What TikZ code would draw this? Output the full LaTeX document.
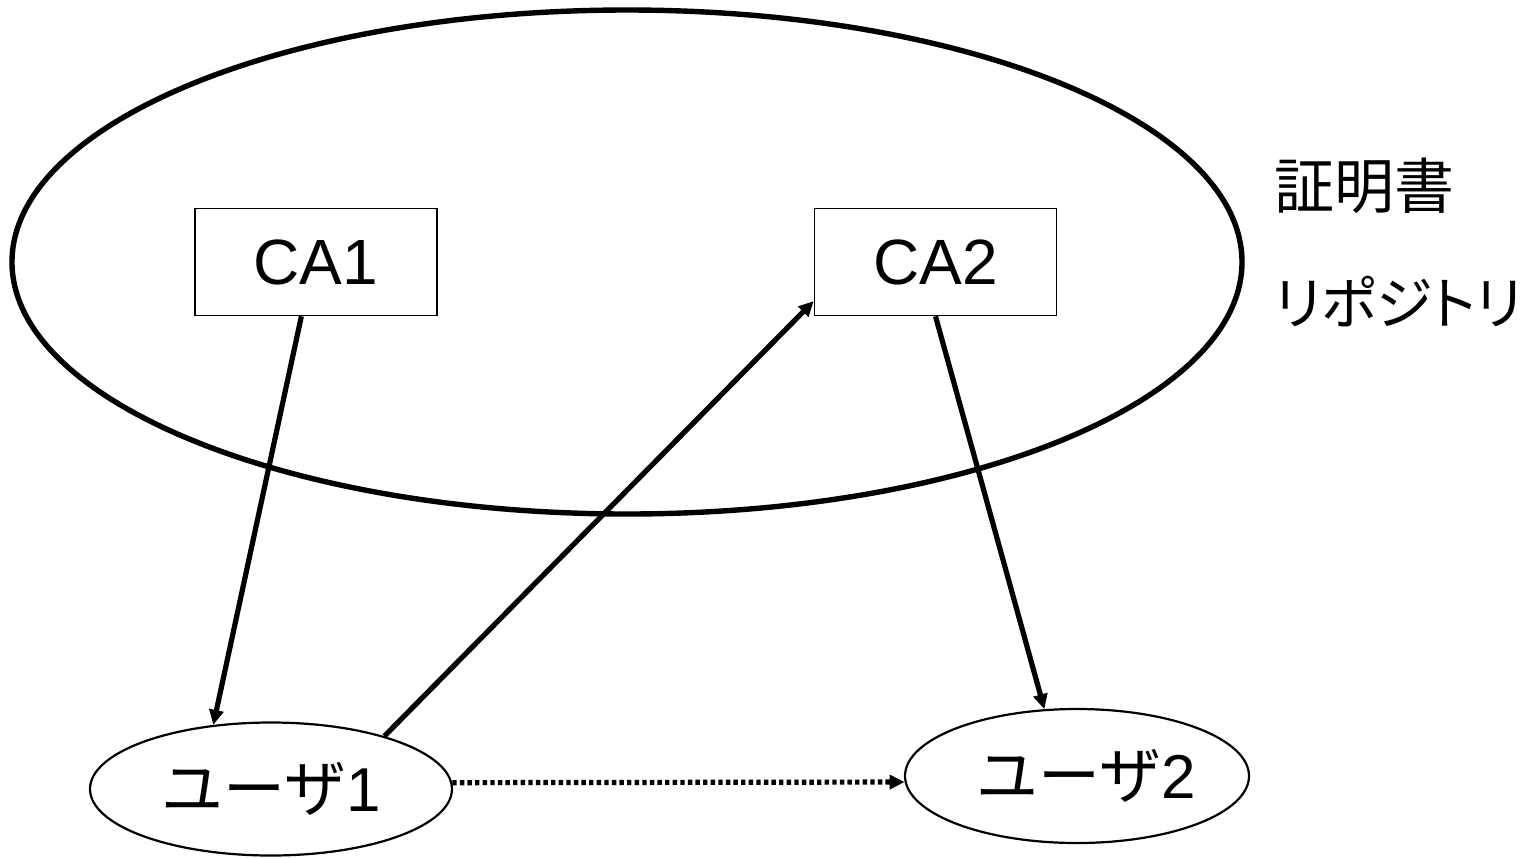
\documentclass[tikz,border=0pt]{standalone}
\usepackage{fontspec}
\setmainfont{Liberation Sans}
\newfontfamily\jp{Noto Sans CJK JP}
\newfontfamily\jpp[RawFeature=+palt]{Noto Sans CJK JP}
\usetikzlibrary{shapes.geometric,arrows.meta,calc}
\begin{document}
\begin{tikzpicture}[x=0.5pt,y=-0.5pt,
  repostyle/.style={draw, ellipse, line width=2.7pt, inner sep=0pt},
  cabox/.style={draw, line width=0.8pt, minimum width=121pt, minimum height=53.5pt, inner sep=0pt,
    font=\fontsize{32}{38}\selectfont},
  user/.style={draw, ellipse, line width=1.1pt, inner sep=0pt, font=\fontsize{31}{36}\selectfont},
  lbl/.style={anchor=west, inner sep=0pt, font=\jpp\fontsize{30}{36}\selectfont},
  arr/.style={line width=2.6pt, -{Triangle[length=7.5pt,width=7pt]}},
  dotarr/.style={line width=2.6pt, dash pattern=on 2.2pt off 1.6pt, -{Triangle[length=7.5pt,width=7pt]}}
]
\useasboundingbox (0,0) rectangle (1537,858);
\node[repostyle, minimum width=615pt, minimum height=252pt] (repo) at (627,262) {};
\node[cabox] (ca1) at (316,262) {CA1};
\node[cabox] (ca2) at (935.5,262) {CA2};
\node[user, minimum width=181pt, minimum height=66.5pt] (u1) at (271,789) {{\jp ユーザ}1};
\node[user, minimum width=172pt, minimum height=67pt] (u2) at (1077,776) {\hspace*{9pt}{\jp ユーザ}2};
\node[lbl] (l1) at (1274,186) {証明書};
\node[lbl, font=\jpp\fontsize{28.5}{34}\selectfont] (l2) at (1274,302) {リポジトリ};
\draw[arr] ($(ca1.south west)!0.44!(ca1.south east)$) -- (u1.132);
\draw[arr] (u1.25.5) -- ($(ca2.south west)!0.14!(ca2.north west)$);
\draw[arr] (ca2.south) -- (u2.116);
\draw[dotarr] (u1.2) -- (u2.182);
\end{tikzpicture}
\end{document}
